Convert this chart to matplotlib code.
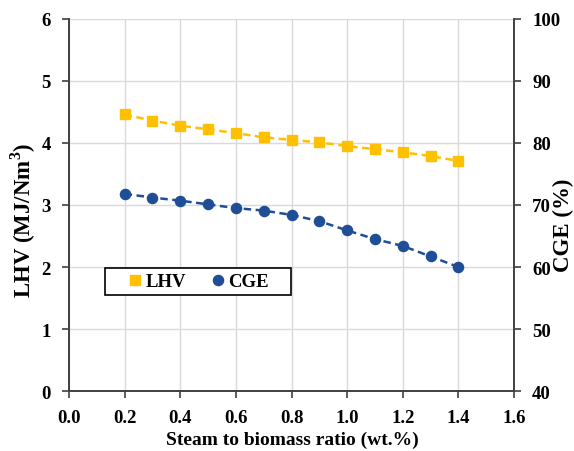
import numpy as np
import matplotlib.pyplot as plt
from matplotlib.patches import Rectangle

# data
ratio = [0.2, 0.3, 0.4, 0.5, 0.6, 0.7, 0.8, 0.9, 1.0, 1.1, 1.2, 1.3, 1.4]
lhv = [4.46, 4.36, 4.28, 4.22, 4.16, 4.09, 4.05, 4.01, 3.95, 3.90, 3.85, 3.79, 3.71]
cge = [71.8, 71.2, 70.7, 70.1, 69.5, 69.1, 68.4, 67.4, 65.9, 64.5, 63.4, 61.7, 60.0]

x_ticks = [0.0, 0.2, 0.4, 0.6, 0.8, 1.0, 1.2, 1.4, 1.6]
lhv_ticks = [0, 1, 2, 3, 4, 5, 6]
cge_ticks = [40, 50, 60, 70, 80, 90, 100]

plt.rcParams['font.family'] = ['Liberation Serif', 'DejaVu Serif']
plt.rcParams['font.weight'] = 'bold'
plt.rcParams['mathtext.fontset'] = 'custom'
plt.rcParams['mathtext.rm'] = 'Liberation Serif:bold'

c_lhv = '#FFC000'
c_cge = '#1F4E96'
spine_c = '#404040'

fig = plt.figure(figsize=(5.74, 4.52), dpi=100)
ax = fig.add_axes([0.1202, 0.1327, 0.7753, 0.8231])
ax2 = ax.twinx()

ax.set_xlim(0, 1.6)
ax.set_ylim(0, 6)
ax2.set_ylim(40, 100)
ax.set_xticks(x_ticks)
ax.set_xticklabels([f'{v:.1f}' for v in x_ticks])
ax.set_yticks(lhv_ticks)
ax2.set_yticks(cge_ticks)

ax.grid(True, color='#d9d9d9', linewidth=1.0)
ax.set_axisbelow(True)

l1, = ax.plot(ratio, lhv, linestyle='--', color=c_lhv, linewidth=1.8,
              marker='s', markersize=6.5, label='LHV', dashes=(3, 1.8))
l2, = ax2.plot(ratio, cge, linestyle='--', color=c_cge, linewidth=1.8,
               marker='o', markersize=7.3, label='CGE', dashes=(3, 1.8))

for a in (ax, ax2):
    a.spines['top'].set_visible(False)
    for s in ('left', 'right', 'bottom'):
        a.spines[s].set_color(spine_c)
        a.spines[s].set_linewidth(1.2)
    a.tick_params(direction='out', length=5, width=1.2, color=spine_c,
                  labelsize=13.5, pad=8)

ax.set_xlabel('Steam to biomass ratio (wt.%)', fontsize=14, fontweight='bold',
              va='center', ha='center')
ax.xaxis.set_label_coords(0.501, -0.129)
ax.set_ylabel('LHV (MJ/Nm$^3$)', fontsize=16.5, fontweight='bold',
              va='center', ha='center')
ax.yaxis.set_label_coords(-0.103, 0.462)
ax2.set_ylabel('CGE (%)', fontsize=16.5, fontweight='bold',
               va='center', ha='center')
ax2.yaxis.set_label_coords(1.112, 0.449)

# legend box drawn separately so the entries sit centred with wide side margins
ax2.add_patch(Rectangle((0.0809, 0.258), 0.418, 0.0726, transform=ax.transAxes,
                        facecolor='white', edgecolor='black', linewidth=1.2,
                        zorder=9, clip_on=False))
leg = ax2.legend([l1, l2], ['LHV', 'CGE'], ncol=2, loc='center',
                 bbox_to_anchor=(0.290, 0.294), fontsize=13.5, frameon=False,
                 handlelength=0.8, handletextpad=0.15, columnspacing=1.3,
                 borderpad=0, borderaxespad=0)
for h in leg.legend_handles:
    h.set_linestyle('None')
leg.set_zorder(10)

fig.savefig('out.png', dpi=100)
